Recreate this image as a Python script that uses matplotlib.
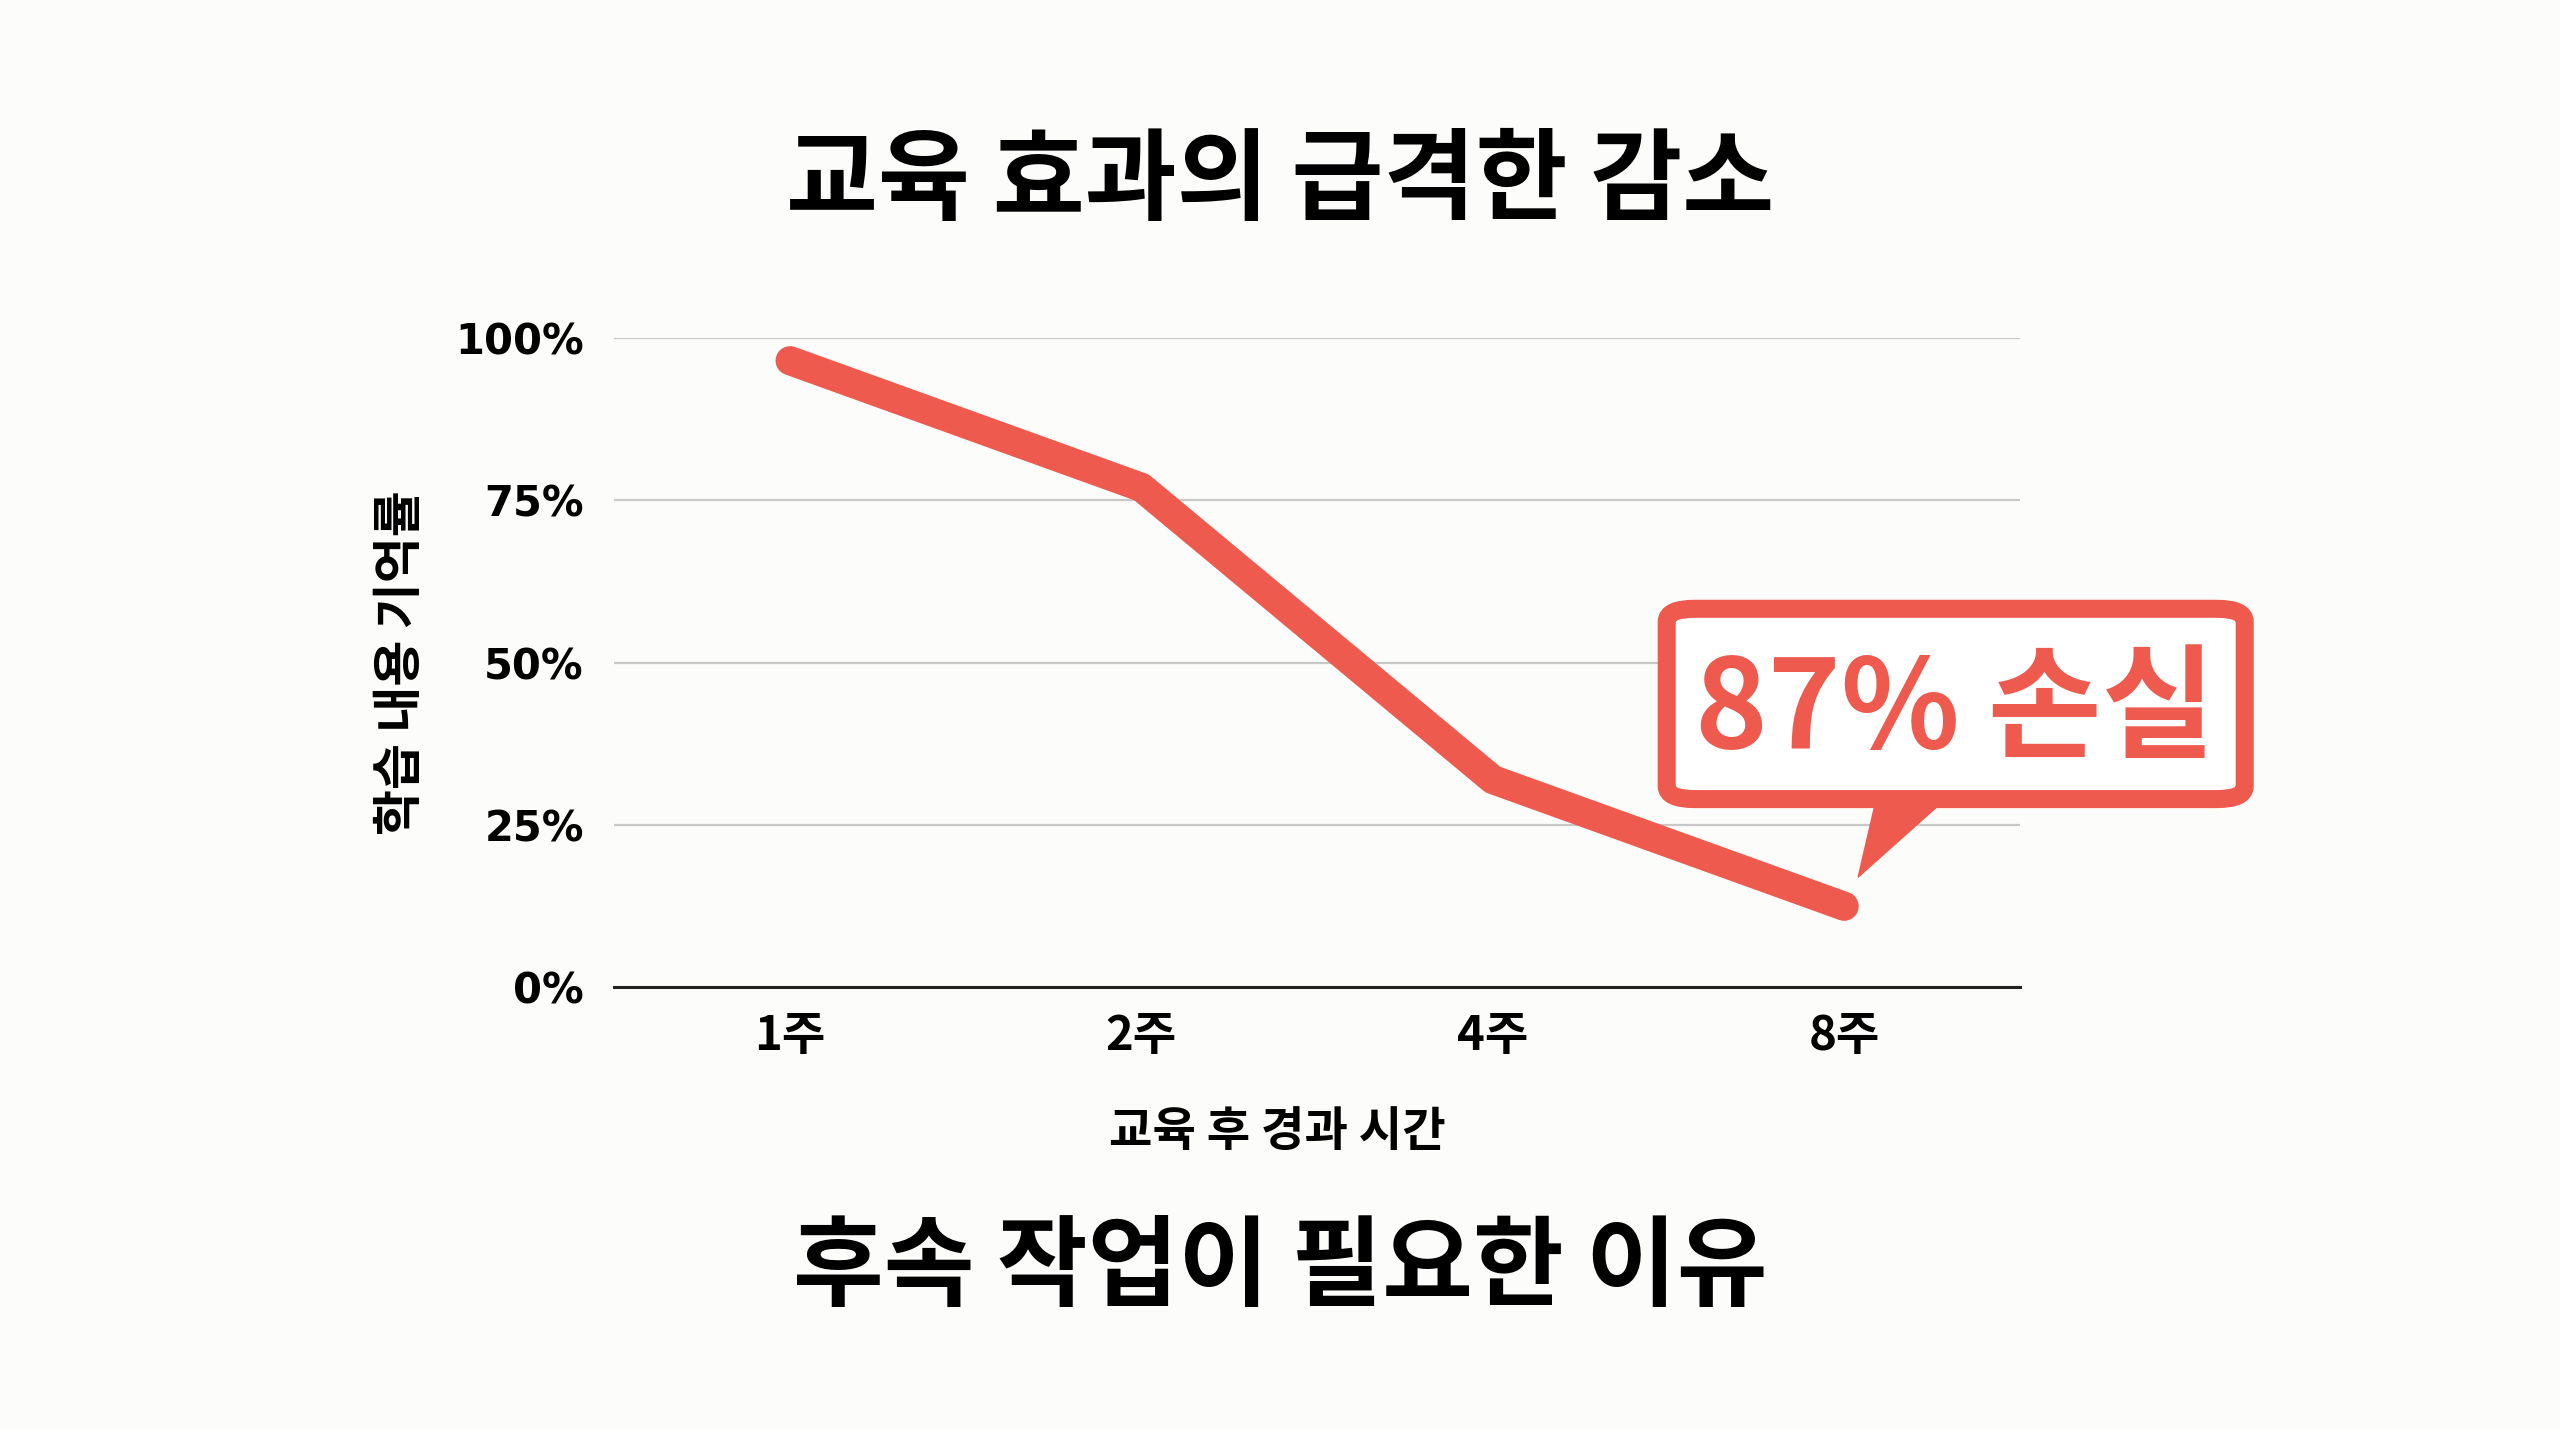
import matplotlib.pyplot as plt
from matplotlib.patches import FancyBboxPatch, Polygon

plt.rcParams['font.family'] = ['Noto Sans CJK KR', 'DejaVu Sans']

weeks = ['1주', '2주', '4주', '8주']
retention = [96.5, 77, 32, 12.5]
y_ticks = [0, 25, 50, 75, 100]
y_tick_labels = ['0%', '25%', '50%', '75%', '100%']
callout_text = '87% 손실'

red = '#EF5A4F'
bg = '#FCFCFA'

fig = plt.figure(figsize=(25.6, 14.29), dpi=100, facecolor=bg)
ax = fig.add_axes([0.240, 0.309, 0.549, 0.4545])
ax.set_facecolor(bg)

x = list(range(len(weeks)))
ax.plot(x, retention, color=red, linewidth=21, solid_capstyle='round',
        solid_joinstyle='round', zorder=3, clip_on=False)

ax.set_xlim(-0.5, len(weeks) - 0.5)
ax.set_ylim(0, 100)
ax.set_xticks(x)
ax.set_xticklabels(weeks, fontsize=34, fontweight='bold')
ax.set_yticks(y_ticks)
ax.set_yticklabels(y_tick_labels, fontsize=30, fontweight='bold',
                   family=['DejaVu Sans'])
ax.tick_params(length=0, pad=22)
ax.tick_params(axis='x', pad=18)
ax.grid(axis='y', color='#c8c8c8', linewidth=1.6, zorder=0)
for s in ['top', 'right', 'left']:
    ax.spines[s].set_visible(False)
ax.spines['bottom'].set_color('#222222')
ax.spines['bottom'].set_linewidth(2.2)
ax.set_axisbelow(True)

ax.set_xlabel('교육 후 경과 시간', fontsize=34, fontweight='bold')
ax.xaxis.set_label_coords(0.472, -0.185)
ax.set_ylabel('학습 내용 기억률', fontsize=36, fontweight='bold', labelpad=20)

# callout bubble (data coords, drawn outside clip)
tail = Polygon([[3.10, 31], [3.33, 31], [3.04, 17.0]], closed=True,
               facecolor=red, edgecolor=red, linewidth=1, zorder=5, clip_on=False)
ax.add_patch(tail)
box = FancyBboxPatch((2.495, 29.0), 1.645, 29.3,
                     boxstyle='round,pad=0,rounding_size=0.08',
                     facecolor='white', edgecolor=red, linewidth=13,
                     zorder=6, clip_on=False, mutation_aspect=25)
ax.add_patch(box)
ax.text(3.315, 42.3, callout_text, color=red, fontsize=89, fontweight='black',
        ha='center', va='center', zorder=7)

fig.text(0.5, 0.872, '교육 효과의 급격한 감소', fontsize=72, fontweight='black',
         ha='center', va='center')
fig.text(0.5, 0.112, '후속 작업이 필요한 이유', fontsize=71, fontweight='black',
         ha='center', va='center')

fig.savefig('out.png', dpi=100, facecolor=bg)
